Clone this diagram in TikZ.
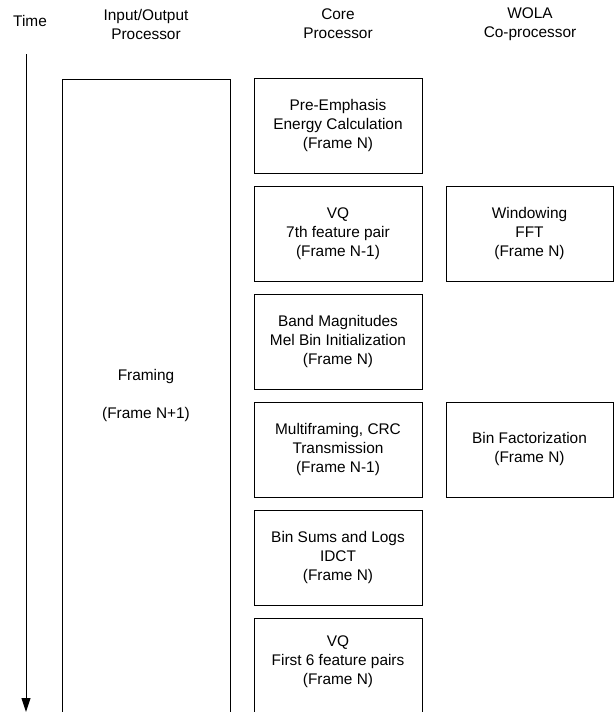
\documentclass[tikz,border=0pt]{standalone}
\usepackage{fontspec}
\setmainfont{Liberation Sans}
\usetikzlibrary{arrows.meta, positioning}

\tikzset{
	txt/.style={align=center, font=\fontsize{15.4}{19}\selectfont, inner sep=0pt},
	taskbox/.style={txt, draw, line width=1pt, minimum width=168pt, minimum height=95pt},
}

\begin{document}
\begin{tikzpicture}[x=1pt, y=-1pt]
	\useasboundingbox (0,0) rectangle (615,712);
	% column headings
	\node[txt] (time) at (30,21) {Time};
	\node[txt] (ioh) at (146,24) {Input/Output\\Processor};
	\node[txt] (coreh) at (338,24) {Core\\Processor};
	\node[txt] (wolah) at (530,24) {WOLA\\Co-processor};
	% time axis
	\coordinate (t0) at (26,54);
	\coordinate (t1) at (26,712);
	\draw[line width=1pt, -{Triangle[width=9pt,length=14pt]}] (t0) -- (t1);
	% input/output processor
	\draw[line width=1pt] (62,712) -- (62,79) -- (230,79) -- (230,712);
	\node[txt] (framing) at (146,396) {Framing\\[19pt](Frame N+1)};
	% core processor
	\node[taskbox] (pre) at (338,126) {Pre-Emphasis\\Energy Calculation\\(Frame N)};
	\node[taskbox] (vq7) at (338,233.5) {VQ\\7th feature pair\\(Frame N-1)};
	\node[taskbox] (band) at (338,341.5) {Band Magnitudes\\Mel Bin Initialization\\(Frame N)};
	\node[taskbox] (multi) at (338,449.5) {Multiframing, CRC\\Transmission\\(Frame N-1)};
	\node[taskbox] (binsum) at (338,557.5) {Bin Sums and Logs\\IDCT\\(Frame N)};
	\draw[line width=1pt] (254,712) -- (254,618) -- (422,618) -- (422,712);
	\node[txt] (vq6) at (338,662) {VQ\\First 6 feature pairs\\(Frame N)};
	% WOLA co-processor
	\node[taskbox, minimum width=167pt] (window) at (529.5,233.5) {Windowing\\FFT\\(Frame N)};
	\node[taskbox, minimum width=167pt] (binfact) at (529.5,449.5) {Bin Factorization\\(Frame N)};
\end{tikzpicture}
\end{document}
